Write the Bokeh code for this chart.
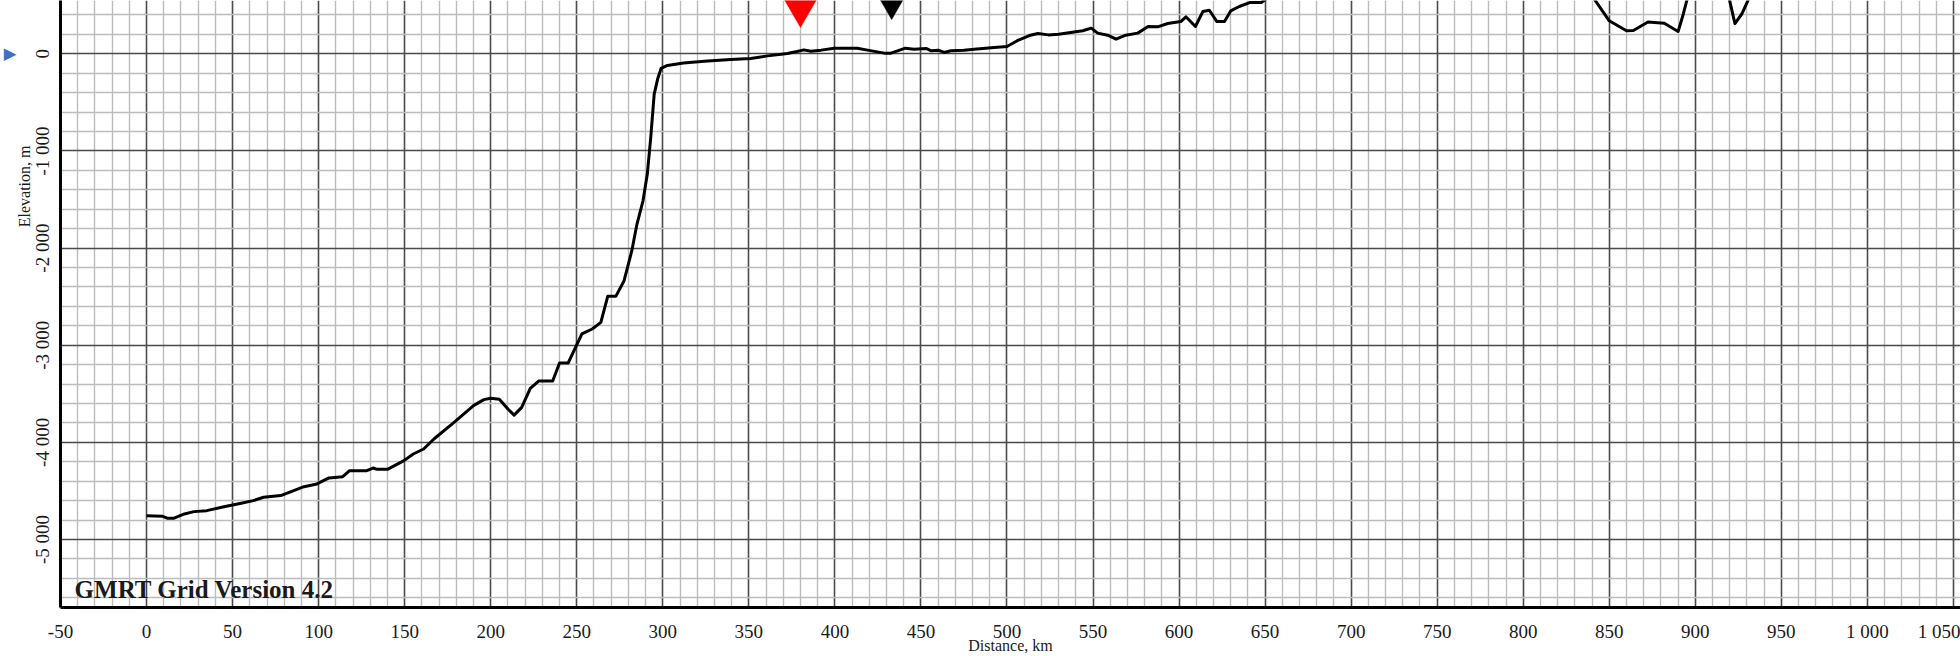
import math
from bokeh.plotting import figure
from bokeh.models import FixedTicker, Label, Range1d, ColumnDataSource, Title, LinearAxis
from bokeh.embed import file_html
from bokeh.resources import INLINE

# ---- profile data (distance along track, km / elevation, m) ----
distance_km = [0, 9, 12, 16, 22, 27.5, 35, 45, 55, 62, 68, 78, 84, 91.5, 99, 106, 114, 118, 128,
               131.6, 134, 140, 149.6, 155, 161, 167, 178.7, 190, 196, 200, 205, 210, 213.6, 218,
               223, 228, 236, 240, 245, 253, 259, 264, 268, 272.7, 277.5, 282, 285, 288.5, 291,
               293, 295, 297, 299, 302.7, 312, 326, 339.5, 351, 361, 372.5, 378, 382, 386, 392,
               399.6, 413, 419, 428.7, 432.6, 436.4, 441, 446, 453, 456, 460, 463.5, 467.4, 475,
               481, 492.6, 500, 506, 513, 518, 524, 530, 537, 544, 549, 552.7, 558.5, 563.4, 569,
               576, 582, 587.6, 593.4, 601, 604, 609.5, 613.8, 617.6, 622, 626.4, 630, 635, 641,
               647.7, 655, 680, 750, 820, 836, 842, 850, 860, 864, 872.5, 882, 890, 893, 895,
               899, 910, 917, 920, 923, 927, 930.5, 934, 960]
elevation_m = [-4755, -4760, -4780, -4780, -4737, -4713, -4703, -4662, -4627, -4600, -4565, -4548,
               -4507, -4456, -4428, -4366, -4353, -4291, -4291, -4264, -4278, -4278, -4188, -4120,
               -4068, -3965, -3794, -3622, -3560, -3545, -3555, -3656, -3720, -3640, -3445, -3368,
               -3368, -3183, -3183, -2884, -2833, -2765, -2497, -2497, -2336, -2027, -1752, -1513,
               -1238, -861, -415, -260, -150, -120, -95, -75, -58, -48, -21, 3, 24, 41, 26, 38,
               58, 58, 38, 7, 7, 31, 58, 48, 55, 31, 38, 14, 31, 38, 48, 65, 75, 135, 188, 209,
               195, 202, 219, 237, 264, 213, 192, 151, 192, 213, 281, 278, 312, 332, 381, 281,
               435, 449, 332, 332, 442, 487, 528, 528, 620, 900, 1500, 1100, 700, 545, 340, 237,
               240, 327, 315, 230, 408, 545, 800, 900, 800, 545, 312, 410, 545, 800, 1200]

# ---- site markers (inverted triangles) ----
marker_km = [380, 433]
marker_elev = [461, 543]
marker_colors = ["#ff0000", "#000000"]

# ---- start-of-profile marker on the elevation axis ----
start_marker_elev = [0]

# ---- ticks ----
x_major = list(range(-50, 1051, 50))
x_minor = [v for v in range(-50, 1060, 10) if v % 50 != 0]
y_major = list(range(-5000, 1001, 1000))
y_minor = [v for v in range(-5600, 600, 200) if v % 1000 != 0]


def fmt(v):
    s = f"{abs(v):,}".replace(",", " ")
    return ("-" if v < 0 else "") + s


x_labels = {v: fmt(v) for v in x_major}
y_labels = {v: fmt(v) for v in y_major}

p = figure(width=1960, height=656,
           x_range=Range1d(-50, 1054.1), y_range=Range1d(-5700, 549),
           output_backend="svg", toolbar_location=None,
           min_border_left=59, min_border_right=0, min_border_top=0, min_border_bottom=49)
p.background_fill_color = "white"
p.border_fill_color = "white"
p.outline_line_color = None

# grids
p.xaxis.ticker = FixedTicker(ticks=x_major, minor_ticks=x_minor)
p.yaxis.ticker = FixedTicker(ticks=y_major, minor_ticks=y_minor)
for g in (p.xgrid, p.ygrid):
    g.grid_line_color = "#4a4a4a"
    g.grid_line_width = 1.6
    g.minor_grid_line_color = "#bcbcbc"
    g.minor_grid_line_width = 1.4

# axes
for ax in (p.xaxis, p.yaxis):
    ax.axis_line_color = "black"
    ax.axis_line_width = 3
    ax.major_tick_in = 0
    ax.major_tick_out = 0
    ax.minor_tick_in = 0
    ax.minor_tick_out = 0
    ax.major_label_text_font = "Liberation Serif"
    ax.major_label_text_font_size = "19px"
    ax.major_label_text_color = "#1a1a1a"
p.xaxis.major_label_overrides = x_labels
p.yaxis.major_label_overrides = y_labels
p.xaxis.major_label_standoff = 13
p.yaxis.major_label_standoff = 7
p.yaxis.major_label_orientation = "parallel"
p.yaxis.axis_label = None

p.xaxis.axis_label = "Distance, km"
p.xaxis.axis_label_text_font = "Liberation Serif"
p.xaxis.axis_label_text_font_size = "16px"
p.xaxis.axis_label_text_font_style = "normal"
p.xaxis.axis_label_text_color = "#1a1a1a"
p.xaxis.axis_label_standoff = -8

# y axis title, placed off-centre (towards the top) like the original
p.add_layout(Title(text="Elevation, m", align="right", offset=145, standoff=-6,
                   text_font="Liberation Serif", text_font_size="16px",
                   text_font_style="normal", text_color="#1a1a1a"), "left")

# blue start marker at elevation 0, outside the frame
tri_axis = LinearAxis(ticker=FixedTicker(ticks=start_marker_elev, minor_ticks=[]),
                      major_label_overrides={0: "\u25B6"},
                      major_label_orientation="horizontal",
                      major_label_standoff=0,
                      major_label_text_font="DejaVu Sans",
                      major_label_text_font_size="16.5px",
                      major_label_text_color="#3f6fc6",
                      axis_line_color=None, major_tick_in=0, major_tick_out=0,
                      minor_tick_in=0, minor_tick_out=0)
p.add_layout(tri_axis, "left")

# profile
src = ColumnDataSource(dict(x=distance_km, y=elevation_m))
p.line("x", "y", source=src, line_color="black", line_width=3, line_join="round")

# markers
msrc = ColumnDataSource(dict(x=marker_km, y=marker_elev, c=marker_colors))
p.scatter("x", "y", source=msrc, marker="inverted_triangle", size=32,
          fill_color="c", line_color="c", line_width=0.5)

# grid version label
p.add_layout(Label(x=-41.8, y=-5515, text="GMRT Grid Version 4.2",
                   text_font="Liberation Serif", text_font_style="bold",
                   text_font_size="25px", text_color="#1a1a1a",
                   text_align="left", text_baseline="alphabetic"))

open("out.html", "w").write(file_html(p, INLINE))
